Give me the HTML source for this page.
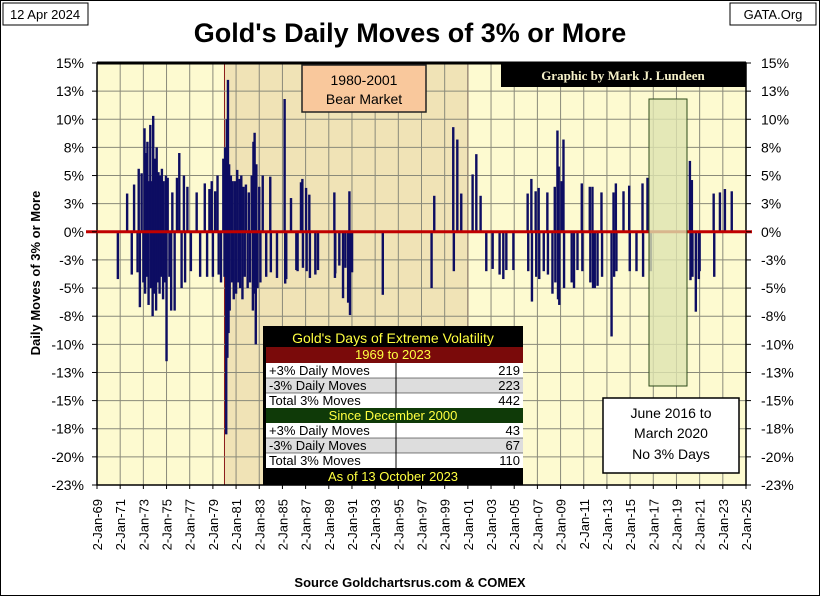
<!DOCTYPE html>
<html><head><meta charset="utf-8"><style>
html,body{margin:0;padding:0;background:#fff}
body{width:820px;height:596px;overflow:hidden;font-family:"Liberation Sans",sans-serif}
</style></head><body>
<svg id="chart" width="820" height="596" viewBox="0 0 820 596" xmlns="http://www.w3.org/2000/svg" font-family="Liberation Sans, sans-serif">
<defs>
<clipPath id="plotclip"><rect x="97" y="63" width="649" height="422"/></clipPath>
</defs>
<rect x="0.5" y="0.5" width="819" height="595" fill="#fff" stroke="#000"/>
<g><rect x="3" y="3" width="85" height="22" fill="#fff" stroke="#000"/><text x="45" y="19" font-size="13" text-anchor="middle">12 Apr 2024</text></g>
<g><rect x="730" y="3" width="86" height="22" fill="#fff" stroke="#000"/><text x="773" y="19" font-size="13" text-anchor="middle">GATA.Org</text></g>
<text x="410" y="42" font-size="27" font-weight="bold" text-anchor="middle">Gold's Daily Moves of 3% or More</text>
<rect x="97" y="63" width="649" height="422" fill="#fdfad0"/>
<g id="shades"></g>
<g id="grid"></g>
<g id="bars" clip-path="url(#plotclip)"></g>
<g id="axes"></g>
<g id="overlays"></g>
<text x="0" y="0" font-size="13" font-weight="bold" text-anchor="middle" transform="translate(40,273) rotate(-90)">Daily Moves  of  3%  or More</text>
<text x="410" y="587" font-size="13" font-weight="bold" text-anchor="middle">Source Goldchartsrus.com &amp; COMEX</text>
</svg>
<script>
const yTicks = [15,12.5,10,7.5,5,2.5,0,-2.5,-5,-7.5,-10,-12.5,-15,-17.5,-20,-22.5];
const yTickLabels = ["15%","13%","10%","8%","5%","3%","0%","-3%","-5%","-8%","-10%","-13%","-15%","-18%","-20%","-23%"];
const xTickYears = [1969,1971,1973,1975,1977,1979,1981,1983,1985,1987,1989,1991,1993,1995,1997,1999,2001,2003,2005,2007,2009,2011,2013,2015,2017,2019,2021,2023,2025];
const xTickLabels = ["2-Jan-69","2-Jan-71","2-Jan-73","2-Jan-75","2-Jan-77","2-Jan-79","2-Jan-81","2-Jan-83","2-Jan-85","2-Jan-87","2-Jan-89","2-Jan-91","2-Jan-93","2-Jan-95","2-Jan-97","2-Jan-99","2-Jan-01","2-Jan-03","2-Jan-05","2-Jan-07","2-Jan-09","2-Jan-11","2-Jan-13","2-Jan-15","2-Jan-17","2-Jan-19","2-Jan-21","2-Jan-23","2-Jan-25"];
const moveDates = [1970.8,1971.6,1972.0,1972.2,1972.5,1972.6,1972.7,1972.85,1973.0,
1973.1,1973.15,1973.2,1973.3,1973.35,1973.45,1973.5,1973.6,1973.65,1973.75,1973.8,1973.85,1973.95,1974.0,1974.1,1974.15,1974.25,1974.3,1974.4,1974.45,1974.55,1974.6,1974.7,1974.75,1974.85,1974.95,1975.0,1975.1,1975.25,1975.4,1975.5,1975.7,1975.9,1976.1,1976.3,1976.5,1976.6,1976.8,1977.1,1977.6,1977.9,1978.3,1978.5,1978.7,1978.9,1979.0,1979.2,1979.4,1979.5,1979.7,1979.9,
1980.0,1980.05,1980.15,1980.2,1980.25,1980.3,1980.35,1980.4,1980.45,1980.55,1980.65,1980.7,1980.8,1980.9,1981.0,1981.1,1981.2,1981.3,1981.35,1981.45,1981.55,1981.65,1981.75,1981.85,1982.0,1982.1,1982.2,1982.35,1982.45,1982.5,1982.55,1982.6,1982.7,1982.75,1982.85,1983.0,1983.1,1983.3,1983.6,
1983.95,1984.0,1984.53,1985.19,1985.24,1985.33,1985.74,1986.2,1986.31,1986.6,1986.72,1986.77,1987.04,1987.09,1987.32,1987.37,1987.84,1988.07,1989.56,1989.48,1989.53,1989.91,1990.23,1990.43,1990.67,1990.78,1990.83,1991.01,1993.66,1997.87,1998.1,
1999.74,1999.79,2000.09,2000.43,2001.41,2001.73,2002.1,2002.59,2003.14,2003.74,2004.06,2004.32,2004.93,2006.16,2006.21,2006.48,2006.53,2006.85,2006.9,2007.11,2007.16,2007.55,2007.86,2007.91,2008.3,2008.5,2008.55,2008.73,2008.78,2008.84,2008.89,2009.07,2009.25,2009.3,2009.96,2010.16,2010.46,2010.83,2010.88,2011.52,2011.57,2011.75,2011.8,2011.95,2012.19,2012.53,2012.58,2013.4,2013.57,2013.62,2013.77,2013.82,2014.43,2014.92,2014.97,2015.55,2016.07,2016.12,2016.5,2016.79,2020.16,2020.21,2020.33,2020.38,2020.67,2020.93,2021.0,2022.21,2022.26,2022.75,2023.18,2023.77];
const moveValues = [-4.2,3.4,-3.8,4.2,-3.6,5.6,-6.7,5.2,-4.5,
9.2,-5.5,7.0,-4.0,8.0,-6.5,4.5,9.5,-5.0,4.5,-7.5,10.3,-5.5,6.5,-7.0,7.5,-4.5,5.3,-5.5,5.0,-4.0,5.6,-6.0,4.5,-4.5,5.0,-11.5,4.8,-4.0,-7.0,3.5,-7.0,4.8,7.0,-5.0,5.0,-4.5,4.0,-3.5,3.5,-4.0,4.3,-4.0,3.8,4.5,-4.0,3.6,5.0,-3.8,-4.5,6.5,
-4.0,7.5,-18.0,10.0,-11.2,13.5,-9.0,6.0,-7.0,5.0,-4.5,4.5,-6.0,4.5,-5.5,5.5,-4.5,4.7,-5.0,5.0,-6.0,4.0,-4.0,4.2,-5.0,3.5,-4.5,5.0,-7.0,8.0,-5.5,8.8,-10.0,6.0,-5.0,4.0,-4.5,5.0,-4.0,
4.9,-3.6,-4.1,11.8,-4.6,-4.2,3.0,-3.4,-3.5,4.4,4.7,-3.2,3.9,-3.5,3.3,-4.1,-3.8,-3.4,-3.7,3.5,-4.1,-3.0,-5.9,-3.2,-6.3,3.6,-7.4,-3.6,-5.6,-5.0,3.2,
9.3,-3.5,8.2,3.4,5.1,6.9,3.2,-3.5,-3.3,-3.8,-4.2,-3.4,-3.4,3.4,-3.5,4.7,-6.2,3.6,-4.0,3.9,-4.2,-3.5,3.5,-3.8,-5.5,4.0,-4.5,9.0,-6.0,5.8,-6.5,4.5,8.2,-5.0,-4.5,-5.0,-3.4,4.3,-3.5,4.0,-4.5,4.0,-5.0,-5.0,-4.8,3.5,-4.0,-9.3,3.5,-4.0,4.3,-3.5,3.6,4.1,-3.5,-3.5,4.3,-4.0,4.8,-3.5,6.3,-4.3,4.6,-4.0,-7.1,-4.2,-3.5,3.4,-4.0,3.5,3.8,3.6];

const NS = "http://www.w3.org/2000/svg";
const X0 = 97, X1 = 746, Y0 = 63, Y1 = 485;
function xScale(yr){ return X0 + (yr - 1969) / (2025 - 1969) * (X1 - X0); }
function yScale(v){ return Y0 + (15 - v) / (15 - (-22.5)) * (Y1 - Y0); }
function mk(tag, attrs, parent){ const e = document.createElementNS(NS, tag); for (const k in attrs) e.setAttribute(k, attrs[k]); parent.appendChild(e); return e; }

const shades = document.getElementById('shades');
let bear = mk('rect', {x: xScale(1980), y: Y0, width: xScale(2001) - xScale(1980), height: Y1 - Y0, fill: '#f0e3b6', stroke: '#8b1a1a', 'stroke-width': 1}, shades);



const grid = document.getElementById('grid');
yTicks.forEach(t => {
  const l = mk('line', {x1: X0, x2: X1, y1: yScale(t), y2: yScale(t), stroke: '#8a8a7a', 'stroke-width': 1}, grid);
  
  
});
xTickYears.forEach(t => {
  const l = mk('line', {x1: xScale(t), x2: xScale(t), y1: Y0, y2: Y1, stroke: '#8a8a7a', 'stroke-width': 1}, grid);
  
  
});

const bars = document.getElementById('bars');
moveDates.forEach((d, i) => {
  const v = moveValues[i];
  const y = Math.min(yScale(v), yScale(0));
  const h = Math.abs(yScale(v) - yScale(0));
  const b = mk('rect', {x: xScale(d) - 1.2, y: y, width: 2.4, height: h, fill: '#0d0d62'}, bars);
  
  
});

const axes = document.getElementById('axes');
const frame = mk('rect', {x: X0, y: Y0, width: X1 - X0, height: Y1 - Y0, fill: 'none', stroke: '#000', 'stroke-width': 1.5}, axes);


mk('line', {x1: X0, x2: X1, y1: Y0, y2: Y0, stroke: '#000', 'stroke-width': 3}, axes);
const zl = mk('line', {x1: 86, x2: 752, y1: yScale(0), y2: yScale(0), stroke: '#c00000', 'stroke-width': 3}, axes);


yTicks.forEach((t, i) => {
  const yy = yScale(t);
  mk('line', {x1: X0 - 5, x2: X0, y1: yy, y2: yy, stroke: '#000'}, axes);
  mk('line', {x1: X1, x2: X1 + 5, y1: yy, y2: yy, stroke: '#000'}, axes);
  const a = mk('text', {x: 84, y: yy + 5, 'font-size': 14, 'text-anchor': 'end'}, axes);
  a.textContent = yTickLabels[i];
  
  
  const b = mk('text', {x: 761, y: yy + 5, 'font-size': 14, 'text-anchor': 'start'}, axes);
  b.textContent = yTickLabels[i];
  
  
});
xTickYears.forEach((t, i) => {
  const xx = xScale(t);
  mk('line', {x1: xx, x2: xx, y1: Y1, y2: Y1 + 4, stroke: '#000'}, axes);
  const a = mk('text', {x: 0, y: 0, 'font-size': 13, 'text-anchor': 'end', transform: `translate(${xx + 5},499) rotate(-90)`}, axes);
  a.textContent = xTickLabels[i];
  
  
});

const ov = document.getElementById('overlays');
ov.innerHTML = `
<g><rect x="302" y="65" width="124" height="47" fill="#f9c89c" stroke="#222" stroke-width="1.5"/><text x="364" y="85" font-size="14" text-anchor="middle">1980-2001</text><text x="364" y="104" font-size="14" text-anchor="middle">Bear Market</text></g>
<g><rect x="501" y="63" width="245" height="24" fill="#000"/><text x="623" y="80" font-size="13" font-weight="bold" fill="#f5f0c8" text-anchor="middle" font-family="Liberation Serif, serif">Graphic by Mark J. Lundeen</text></g>
<rect x="649" y="99" width="38" height="287" fill="#dde3b0" fill-opacity="0.8" stroke="#2d4a1a"/>
<g><rect x="603" y="398" width="136" height="75" fill="#fff" stroke="#000" stroke-width="1.5"/><text x="671" y="418" font-size="14" text-anchor="middle">June 2016 to</text><text x="671" y="438" font-size="14" text-anchor="middle">March 2020</text><text x="671" y="459" font-size="14" text-anchor="middle">No 3% Days</text></g>
<g font-size="13">
<rect x="263" y="326" width="260" height="159" fill="#000"/>
<text x="393" y="343" font-size="14" fill="#ffff40" text-anchor="middle">Gold's Days of Extreme Volatility</text>
<rect x="266" y="347" width="257" height="16" fill="#7a0a0a"/><text x="393" y="359" fill="#ffff40" text-anchor="middle">1969 to 2023</text>
<rect x="266" y="363" width="257" height="15" fill="#fff"/><rect x="266" y="378" width="257" height="15" fill="#ddd"/><rect x="266" y="393" width="257" height="15" fill="#fff"/>
<line x1="396" y1="363" x2="396" y2="408" stroke="#000"/><line x1="266" y1="378" x2="523" y2="378" stroke="#000" stroke-width="0.6"/><line x1="266" y1="393" x2="523" y2="393" stroke="#000" stroke-width="0.6"/>
<text x="269" y="375">+3% Daily Moves</text><text x="520" y="375" text-anchor="end">219</text>
<text x="269" y="390">-3% Daily Moves</text><text x="520" y="390" text-anchor="end">223</text>
<text x="269" y="405">Total 3% Moves</text><text x="520" y="405" text-anchor="end">442</text>
<rect x="266" y="408" width="257" height="15" fill="#0f3a08"/><text x="393" y="420" fill="#ffff40" text-anchor="middle">Since December 2000</text>
<rect x="266" y="423" width="257" height="15" fill="#fff"/><rect x="266" y="438" width="257" height="15" fill="#ddd"/><rect x="266" y="453" width="257" height="15" fill="#fff"/>
<line x1="396" y1="423" x2="396" y2="468" stroke="#000"/><line x1="266" y1="438" x2="523" y2="438" stroke="#000" stroke-width="0.6"/><line x1="266" y1="453" x2="523" y2="453" stroke="#000" stroke-width="0.6"/>
<text x="269" y="435">+3% Daily Moves</text><text x="520" y="435" text-anchor="end">43</text>
<text x="269" y="450">-3% Daily Moves</text><text x="520" y="450" text-anchor="end">67</text>
<text x="269" y="465">Total 3% Moves</text><text x="520" y="465" text-anchor="end">110</text>
<text x="393" y="481" fill="#ffff40" text-anchor="middle">As of 13 October 2023</text>
</g>`;
</script>
</body></html>
